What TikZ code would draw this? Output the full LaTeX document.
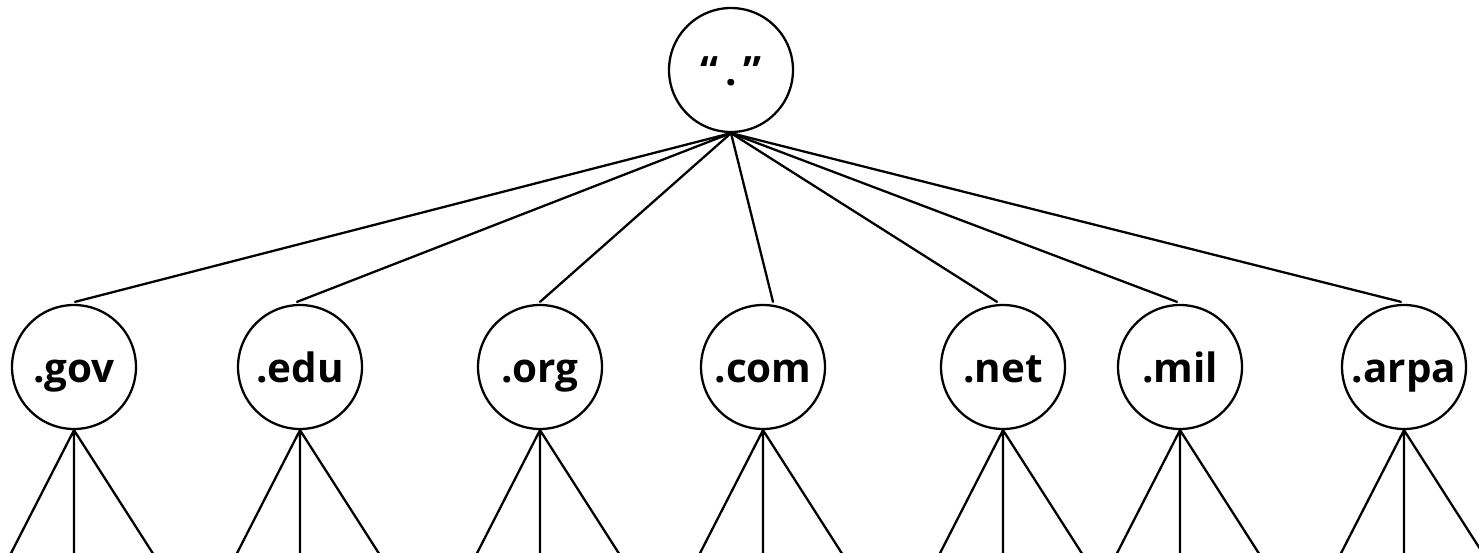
\documentclass[tikz,border=0pt]{standalone}
\usepackage{fontspec}
\setmainfont{Open Sans}
\begin{document}
\begin{tikzpicture}[x=0.02cm, y=0.02cm, line join=round, line cap=round, line width=1.3pt,
    dom/.style={draw, circle, inner sep=0pt, minimum size=2.48cm,
        text height=18pt, text depth=0pt,
        font=\fontsize{23}{26}\selectfont\bfseries}]
    \useasboundingbox (0,0) rectangle (1479,552);
    \def\ytop{482}\def\ymid{185}
    % root of the name space
    \node[dom] (root) at (731,\ytop) {“\,.\,”};
    % top level domains, x position and where the branch meets them
    \foreach \n/\x/\dx in {gov/74/1, edu/300/-3, org/540/0, com/763/10, net/1003/-6, mil/1180/-3, arpa/1404/-3}{
        \node[dom] (\n) at (\x,\ymid) {.\n};
        \draw (root.south) -- ([xshift=\dx*0.02cm, yshift=0.04cm]\n.north);
        \draw (\n.south) -- ++(-64,-125) (\n.south) -- ++(0,-125) (\n.south) -- ++(80,-125);
    }
\end{tikzpicture}
\end{document}
